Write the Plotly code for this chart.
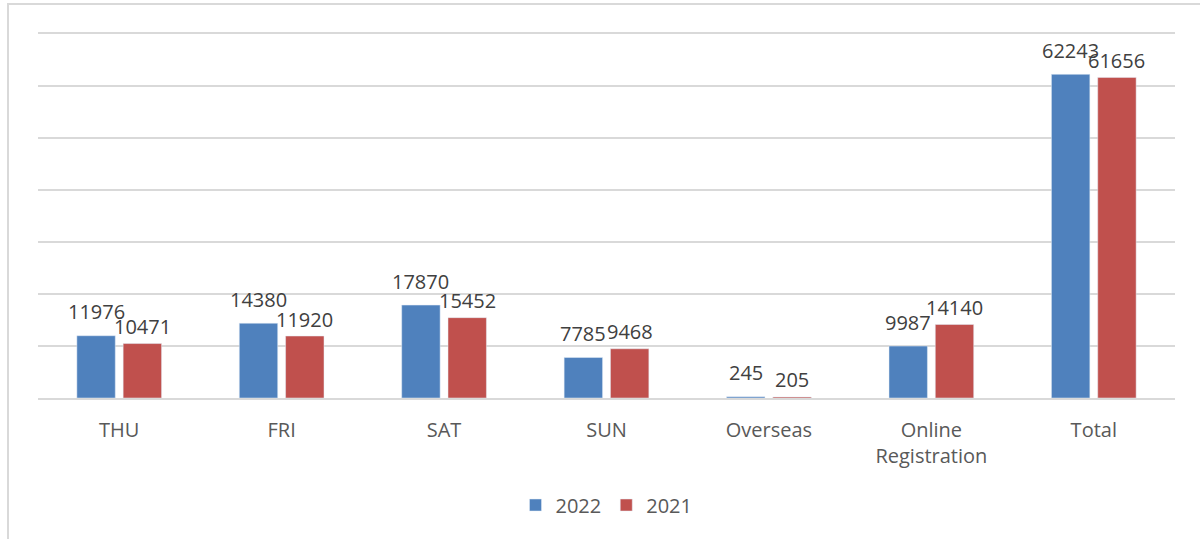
import plotly.graph_objects as go

categories = ["THU", "FRI", "SAT", "SUN", "Overseas", "Online<br>Registration", "Total"]
values_2022 = [11976, 14380, 17870, 7785, 245, 9987, 62243]
values_2021 = [10471, 11920, 15452, 9468, 205, 14140, 61656]
series = [("2022", values_2022, "#4F81BD", 24), ("2021", values_2021, "#C0504D", 17)]

W, H = 1200, 539
ml, mr, mt, mb = 38, 25, 34, 141
pw, ph = W - ml - mr, H - mt - mb
bargap, bargroupgap = 0.43, 0.17
slot = pw / len(categories) * (1 - bargap) / len(series)

fig = go.Figure()
for i, (name, vals, color, lift) in enumerate(series):
    fig.add_trace(go.Bar(name=name, x=categories, y=vals, marker_color=color))
    shift = (i - (len(series) - 1) / 2) * slot
    for c, v in zip(categories, vals):
        fig.add_annotation(x=c, y=v, text=str(v), showarrow=False, xshift=shift,
                           yshift=lift, yanchor="middle", xanchor="center",
                           font=dict(size=20, color="#404040"))

fig.update_layout(
    width=W, height=H,
    margin=dict(l=ml, r=mr, t=mt, b=mb, autoexpand=False),
    barmode="group", bargap=bargap, bargroupgap=bargroupgap,
    plot_bgcolor="white", paper_bgcolor="white",
    font=dict(family="Open Sans, Liberation Sans, sans-serif", color="#595959", size=20),
    showlegend=True,
    legend=dict(orientation="h", x=0.5, xanchor="center", y=(398 - 505) / ph, yanchor="middle",
                font=dict(size=20, color="#595959"), itemwidth=30),
    xaxis=dict(showgrid=False, showline=True, mirror=True, linecolor="#D9D9D9", linewidth=1.5,
               ticks="", tickfont=dict(size=20, color="#595959"), ticklabelstandoff=13,
               automargin=False),
    yaxis=dict(range=[0, 70000], dtick=10000, showgrid=True, gridcolor="#D9D9D9", gridwidth=1.5,
               showticklabels=False, zeroline=False, showline=False, automargin=False),
    shapes=[dict(type="rect", xref="paper", yref="paper",
                 x0=(8 - ml) / pw, x1=(1210 - ml) / pw,
                 y0=(398 - 550) / ph, y1=(398 - 4) / ph,
                 line=dict(color="#D9D9D9", width=2), fillcolor="rgba(0,0,0,0)", layer="below")],
)

fig.write_html("out.html", config={"displayModeBar": False},
               post_script="document.body.style.margin='0';document.body.style.overflow='hidden';")
